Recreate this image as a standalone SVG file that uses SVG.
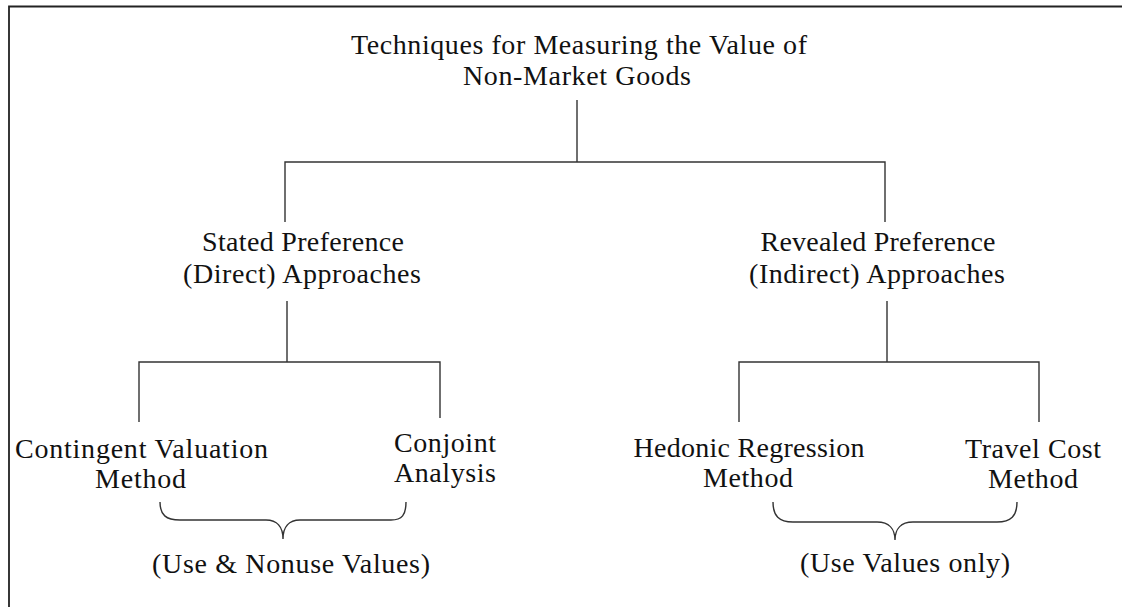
<svg xmlns="http://www.w3.org/2000/svg" width="1122" height="607" viewBox="0 0 1122 607">
<style>
.t{font-family:"Liberation Serif","Times New Roman",serif;font-size:28px;fill:#111;text-anchor:middle}
.c{fill:none;stroke:#333;stroke-width:1.4}
.b{fill:none;stroke:#222;stroke-width:1.8}
</style>
<rect x="0" y="0" width="1122" height="607" fill="#fff"/>
<g id="frame">
<path class="b" d="M9,607 L9,6.5 L1122,6.5"/>
</g>
<g id="connectors">
<path class="c" d="M577,100 L577,162 M285,222 L285,162 L885,162 L885,222"/>
<path class="c" d="M287,301 L287,362 M139,422 L139,362 L440,362 L440,418"/>
<path class="c" d="M887,301 L887,362 M739,422 L739,362 L1039,362 L1039,422"/>
<path class="c" d="M160,502 C160,515 166,520 180,520 L266,520 C277,520 283,527 283,539 C283,527 289,520 300,520 L391,520 C402,520 406,515 406,502"/>
<path class="c" d="M773,502 C773,516 779,522 793,522 L877,522 C889,522 895,529 895,540 C895,529 901,522 913,522 L997,522 C1011,522 1017,516 1017,502"/>
</g>
<g id="root">
<text class="t" x="579" y="54" textLength="456" lengthAdjust="spacing">Techniques for Measuring the Value of</text>
<text class="t" x="577" y="85" textLength="228" lengthAdjust="spacing">Non-Market Goods</text>
</g>
<g id="stated">
<text class="t" x="303" y="251" textLength="202" lengthAdjust="spacing">Stated Preference</text>
<text class="t" x="302" y="283" textLength="238" lengthAdjust="spacing">(Direct) Approaches</text>
</g>
<g id="revealed">
<text class="t" x="878" y="251" textLength="235" lengthAdjust="spacing">Revealed Preference</text>
<text class="t" x="877" y="283" textLength="256" lengthAdjust="spacing">(Indirect) Approaches</text>
</g>
<g id="cvm">
<text class="t" x="141.5" y="458" textLength="253" lengthAdjust="spacing">Contingent Valuation</text>
<text class="t" x="140.5" y="488" textLength="91" lengthAdjust="spacing">Method</text>
</g>
<g id="conjoint">
<text class="t" x="445" y="452" textLength="102" lengthAdjust="spacing">Conjoint</text>
<text class="t" x="445" y="482" textLength="102" lengthAdjust="spacing">Analysis</text>
</g>
<g id="hedonic">
<text class="t" x="749" y="457" textLength="231" lengthAdjust="spacing">Hedonic Regression</text>
<text class="t" x="748" y="487" textLength="90" lengthAdjust="spacing">Method</text>
</g>
<g id="travel">
<text class="t" x="1033" y="458" textLength="136" lengthAdjust="spacing">Travel Cost</text>
<text class="t" x="1033" y="488" textLength="90" lengthAdjust="spacing">Method</text>
</g>
<g id="use-nonuse">
<text class="t" x="291" y="573" textLength="278" lengthAdjust="spacing">(Use &amp; Nonuse Values)</text>
</g>
<g id="use-only">
<text class="t" x="905" y="572" textLength="210" lengthAdjust="spacing">(Use Values only)</text>
</g>
</svg>
